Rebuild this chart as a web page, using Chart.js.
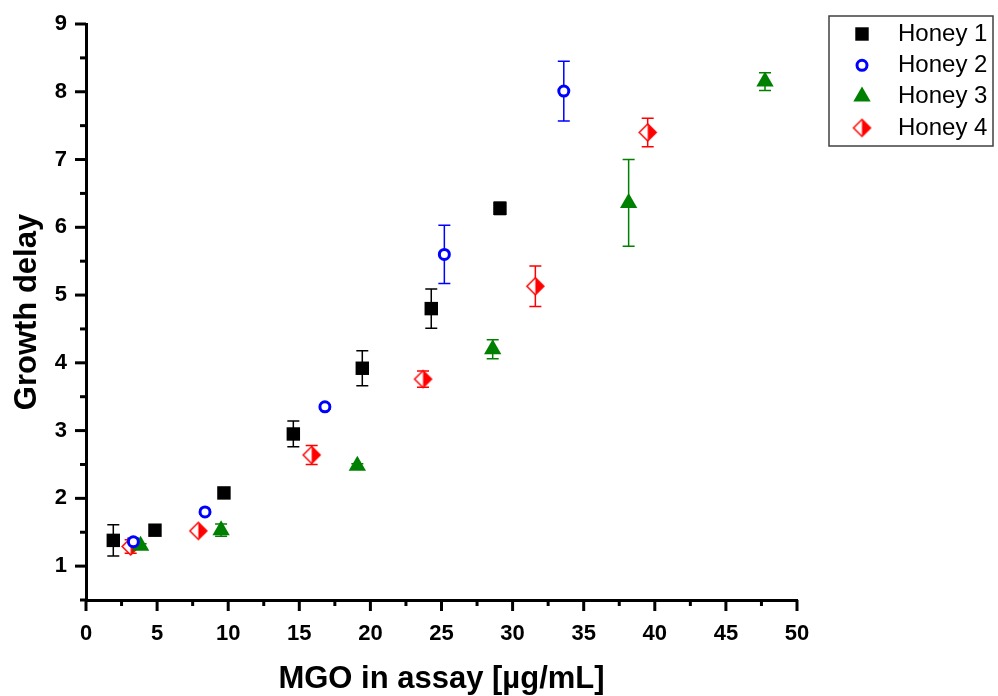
<!DOCTYPE html>
<html>
<head>
<meta charset="utf-8">
<script src="https://cdn.jsdelivr.net/npm/chart.js@4.4.0/dist/chart.umd.min.js"></script>
<style>
  body { margin: 0; background: #fff; }
  #wrap { width: 998px; height: 696px; }
</style>
</head>
<body>
<div id="wrap"><canvas id="growthChart"></canvas></div>
<script>
// MGO concentration (x), growth delay (y) and +/- error per honey
var honey1Mgo = [1.92, 4.85, 9.7, 14.58, 19.43, 24.28, 29.11];
var honey1Delay = [1.38, 1.53, 2.08, 2.95, 3.92, 4.80, 6.28];
var honey1Err = [0.23, 0.05, 0.05, 0.19, 0.26, 0.29, 0.09];

var honey2Mgo = [3.33, 8.37, 16.8, 25.2, 33.6];
var honey2Delay = [1.36, 1.80, 3.35, 5.60, 8.01];
var honey2Err = [0.05, 0.03, 0.03, 0.43, 0.44];

var honey3Mgo = [3.84, 9.5, 19.08, 28.6, 38.16, 47.75];
var honey3Delay = [1.30, 1.53, 2.48, 4.20, 6.36, 8.15];
var honey3Err = [0.03, 0.09, 0.03, 0.14, 0.64, 0.13];

var honey4Mgo = [3.14, 7.9, 15.87, 23.7, 31.6, 39.5];
var honey4Delay = [1.29, 1.52, 2.64, 3.76, 5.13, 7.40];
var honey4Err = [0.10, 0.03, 0.14, 0.12, 0.30, 0.21];

var seriesNames = ['Honey 1', 'Honey 2', 'Honey 3', 'Honey 4'];

var FONT = "'Liberation Sans', Arial, sans-serif";

function points(xs, ys) {
  return xs.map(function (x, i) { return { x: x, y: ys[i] }; });
}

// diamond with the left half open and the right half filled
function halfDiamond(color, r) {
  var c = document.createElement('canvas');
  var s = Math.ceil(r * 2 + 4);
  c.width = s; c.height = s;
  var g = c.getContext('2d');
  var m = s / 2;
  g.lineWidth = 1.5;
  g.strokeStyle = color;
  g.fillStyle = '#fff';
  g.beginPath();
  g.moveTo(m, m - r); g.lineTo(m + r, m); g.lineTo(m, m + r); g.lineTo(m - r, m);
  g.closePath();
  g.fill(); g.stroke();
  g.fillStyle = color;
  g.beginPath();
  g.moveTo(m, m - r); g.lineTo(m + r, m); g.lineTo(m, m + r);
  g.closePath();
  g.fill();
  return c;
}

var errorBars = {
  id: 'errorBars',
  beforeDatasetsDraw: function (chart) {
    var ctx = chart.ctx, xs = chart.scales.x, ys = chart.scales.y;
    chart.data.datasets.forEach(function (ds) {
      ctx.save();
      ctx.strokeStyle = ds.errorColor;
      ctx.lineWidth = 1.5;
      ds.data.forEach(function (p, j) {
        var e = ds.errors[j];
        var px = xs.getPixelForValue(p.x);
        var top = ys.getPixelForValue(p.y + e);
        var bot = ys.getPixelForValue(p.y - e);
        ctx.beginPath();
        ctx.moveTo(px, top); ctx.lineTo(px, bot);
        ctx.moveTo(px - 6, top); ctx.lineTo(px + 6, top);
        ctx.moveTo(px - 6, bot); ctx.lineTo(px + 6, bot);
        ctx.stroke();
      });
      ctx.restore();
    });
  }
};

// outward major / minor tick marks
var axisTicks = {
  id: 'axisTicks',
  afterDraw: function (chart) {
    var ctx = chart.ctx, area = chart.chartArea;
    var xs = chart.scales.x, ys = chart.scales.y;
    ctx.save();
    ctx.strokeStyle = '#000';
    ctx.lineWidth = 3;
    xs.ticks.forEach(function (t) {
      var px = xs.getPixelForValue(t.value);
      var len = t.value % 5 === 0 ? 11 : 6;
      ctx.beginPath(); ctx.moveTo(px, area.bottom); ctx.lineTo(px, area.bottom + len); ctx.stroke();
    });
    ys.ticks.forEach(function (t) {
      var py = ys.getPixelForValue(t.value);
      var len = Number.isInteger(t.value) ? 11 : 6;
      ctx.beginPath(); ctx.moveTo(area.left, py); ctx.lineTo(area.left - len, py); ctx.stroke();
    });
    ctx.restore();
  }
};

var boxLegend = {
  id: 'boxLegend',
  afterDraw: function (chart) {
    var ctx = chart.ctx;
    var left = 829, top = 16, w = 164, h = 130;
    ctx.save();
    ctx.strokeStyle = '#404040';
    ctx.lineWidth = 1.5;
    ctx.strokeRect(left, top, w, h);
    ctx.font = '24px ' + FONT;
    ctx.textBaseline = 'middle';
    chart.data.datasets.forEach(function (ds, i) {
      var y = top + 18 + i * 31.3;
      ctx.fillStyle = ds.pointBackgroundColor;
      ctx.strokeStyle = ds.pointBorderColor;
      ctx.lineWidth = ds.pointBorderWidth;
      Chart.helpers.drawPoint(ctx, {
        pointStyle: ds.pointStyle, radius: ds.pointRadius,
        borderWidth: ds.pointBorderWidth, rotation: 0
      }, 862, y);
      ctx.fillStyle = '#000';
      ctx.fillText(ds.label, 898, y);
    });
    ctx.restore();
  }
};

new Chart(document.getElementById('growthChart'), {
  type: 'scatter',
  data: {
    datasets: [
      {
        label: seriesNames[0], data: points(honey1Mgo, honey1Delay), errors: honey1Err,
        errorColor: '#000', pointStyle: 'rect', pointRadius: 9.5, pointBorderWidth: 0,
        pointBackgroundColor: '#000', pointBorderColor: '#000'
      },
      {
        label: seriesNames[1], data: points(honey2Mgo, honey2Delay), errors: honey2Err,
        errorColor: '#0000ff', pointStyle: 'circle', pointRadius: 5, pointBorderWidth: 3,
        pointBackgroundColor: '#fff', pointBorderColor: '#0000ff'
      },
      {
        label: seriesNames[2], data: points(honey3Mgo, honey3Delay), errors: honey3Err,
        errorColor: '#008000', pointStyle: 'triangle', pointRadius: 10, pointBorderWidth: 0,
        pointBackgroundColor: '#008000', pointBorderColor: '#008000'
      },
      {
        label: seriesNames[3], data: points(honey4Mgo, honey4Delay), errors: honey4Err,
        errorColor: '#ff0000', pointStyle: halfDiamond('#ff0000', 8.5), pointRadius: 9, pointBorderWidth: 0,
        pointBackgroundColor: '#ff0000', pointBorderColor: '#ff0000'
      }
    ]
  },
  options: {
    responsive: true,
    maintainAspectRatio: false,
    animation: false,
    layout: { padding: { left: 0, top: 24, right: 201, bottom: 0 } },
    scales: {
      x: {
        type: 'linear',
        min: 0,
        max: 50,
        afterFit: function (scale) { scale.height = 96; },
        grid: { drawOnChartArea: false, drawTicks: true, tickLength: 10, tickColor: 'rgba(0,0,0,0)' },
        border: { display: true, color: '#000', width: 3 },
        ticks: {
          stepSize: 2.5,
          autoSkip: false,
          maxRotation: 0,
          padding: 11,
          color: '#000',
          font: { family: FONT, size: 22, weight: 'bold' },
          callback: function (v) { return v % 5 === 0 ? v : ''; }
        },
        title: {
          display: true,
          text: 'MGO in assay [µg/mL]',
          color: '#000',
          font: { family: FONT, size: 31, weight: 'bold', lineHeight: 1 },
          padding: { top: 0, bottom: 1 }
        }
      },
      y: {
        type: 'linear',
        min: 0.5,
        max: 9,
        afterFit: function (scale) { scale.width = 86; },
        grid: { drawOnChartArea: false, drawTicks: true, tickLength: 10, tickColor: 'rgba(0,0,0,0)' },
        border: { display: true, color: '#000', width: 3 },
        ticks: {
          stepSize: 0.5,
          autoSkip: false,
          padding: 9,
          color: '#000',
          font: { family: FONT, size: 22, weight: 'bold' },
          callback: function (v) { return Number.isInteger(v) ? v : ''; }
        },
        title: {
          display: true,
          text: 'Growth delay',
          color: '#000',
          font: { family: FONT, size: 31, weight: 'bold', lineHeight: 1 },
          padding: { top: 12, bottom: 0 }
        }
      }
    },
    plugins: {
      legend: { display: false },
      tooltip: { enabled: false }
    }
  },
  plugins: [errorBars, axisTicks, boxLegend]
});
</script>
</body>
</html>
